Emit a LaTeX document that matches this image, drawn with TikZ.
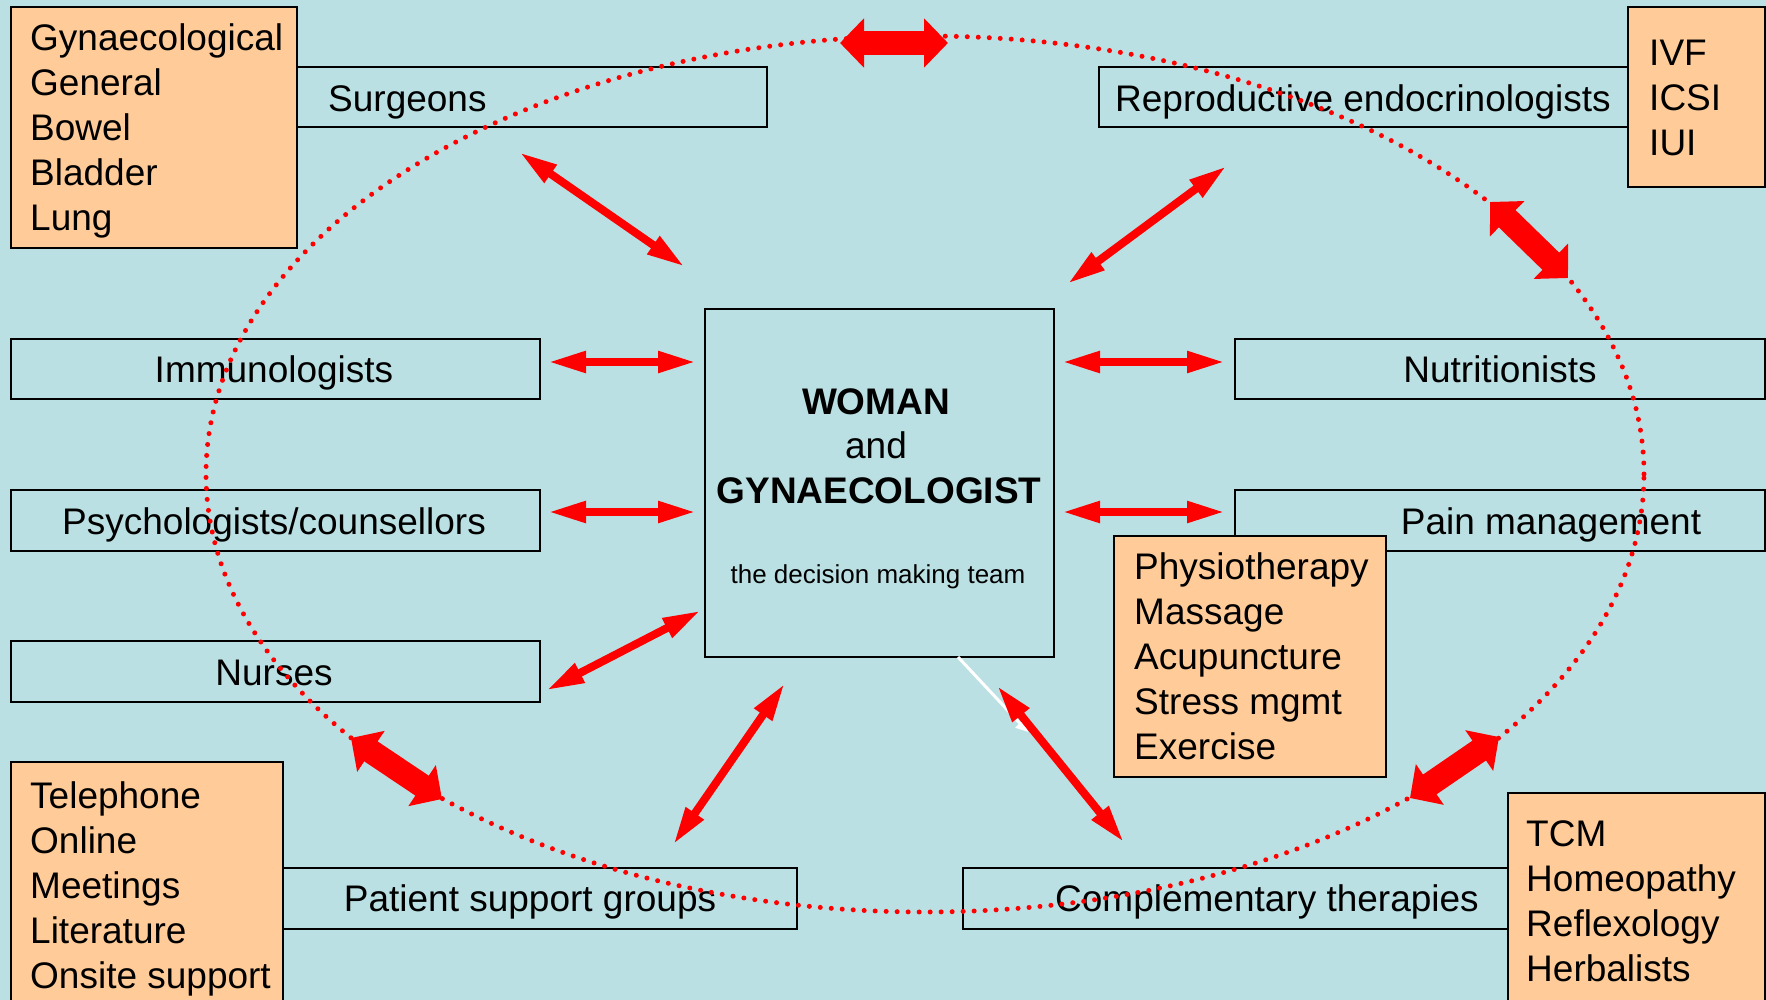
\documentclass[tikz,border=0pt]{standalone}
\usepackage{fontspec}
\setmainfont{Liberation Sans}
\usetikzlibrary{arrows.meta}
\definecolor{bg}{RGB}{187,224,227}
\definecolor{peach}{RGB}{255,204,153}
\definecolor{arrowred}{RGB}{255,0,0}
\begin{document}
\begin{tikzpicture}[x=1pt,y=-1pt,
  box/.style={draw=black,line width=2pt,fill=bg,inner sep=0pt,anchor=north west},
  obox/.style={box,fill=peach},
  lbl/.style={font=\fontsize{37}{45}\selectfont,inner sep=0pt,anchor=base},
  llbl/.style={lbl,anchor=base west},
  linkarrow/.style={draw=arrowred,line width=8pt,
    {Triangle[length=38pt,width=20pt]}-{Triangle[length=38pt,width=20pt]}},
  ringarrow/.style={draw=arrowred,line width=24pt,
    {Triangle[length=24pt,width=48pt]}-{Triangle[length=24pt,width=48pt]}},
  ring/.style={draw=arrowred,line width=5pt,line cap=round,dash pattern=on 0pt off 11pt},
]
\useasboundingbox (0,0) rectangle (1766,1000);
\clip (0,0) rectangle (1766,1000);
\fill[bg] (0,0) rectangle (1766,1000);

% plain boxes
\node[box,minimum width=470pt,minimum height=60pt] (surg) at (296,66) {};
\node[box,minimum width=529pt,minimum height=60pt] (repro) at (1098,66) {};
\node[box,minimum width=529pt,minimum height=60pt] (immu) at (10,338) {};
\node[box,minimum width=530pt,minimum height=60pt] (nutr) at (1234,338) {};
\node[box,minimum width=529pt,minimum height=61pt] (psych) at (10,489) {};
\node[box,minimum width=530pt,minimum height=61pt] (pain) at (1234,489) {};
\node[box,minimum width=529pt,minimum height=61pt] (nurse) at (10,640) {};
\node[box,minimum width=514pt,minimum height=61pt] (psg) at (282,867) {};
\node[box,minimum width=545pt,minimum height=61pt] (comp) at (962,867) {};
\node[box,minimum width=349pt,minimum height=348pt] (centre) at (704,308) {};

% orange boxes
\node[obox,minimum width=286pt,minimum height=241pt] (gyn) at (10,6) {};
\node[obox,minimum width=137pt,minimum height=180pt] (ivf) at (1627,6) {};
\node[obox,minimum width=272pt,minimum height=241pt] (physio) at (1113,535) {};
\node[obox,minimum width=272pt,minimum height=260pt] (tel) at (10,761) {};
\node[obox,minimum width=257pt,minimum height=230pt] (tcm) at (1507,792) {};

% box labels
\node[llbl] (tsurg) at (328,111.5) {Surgeons};
\node[lbl] (trepro) at (1363,111.5) {Reproductive endocrinologists};
\node[lbl] (timmu) at (274,382.5) {Immunologists};
\node[lbl] (tnutr) at (1500,382.5) {Nutritionists};
\node[lbl] (tpsych) at (274,534.5) {Psychologists/counsellors};
\node[lbl] (tpain) at (1551,534.5) {Pain management};
\node[lbl] (tnurse) at (274,685.5) {Nurses};
\node[lbl] (tpsg) at (530,911.5) {Patient support groups};
\node[lbl] (tcomp) at (1267,911.5) {Complementary therapies};

% orange box lists
\foreach \t [count=\i] in {Gynaecological,General,Bowel,Bladder,Lung}
  \node[llbl] (g\i) at (30,{51+45*(\i-1)}) {\t};
\foreach \t [count=\i] in {IVF,ICSI,IUI}
  \node[llbl] (v\i) at (1649,{66+45*(\i-1)}) {\t};
\foreach \t [count=\i] in {Physiotherapy,Massage,Acupuncture,Stress mgmt,Exercise}
  \node[llbl] (p\i) at (1134,{579.5+45*(\i-1)}) {\t};
\foreach \t [count=\i] in {Telephone,Online,Meetings,Literature,Onsite support}
  \node[llbl] (o\i) at (30,{808+45*(\i-1)}) {\t};
\foreach \t [count=\i] in {TCM,Homeopathy,Reflexology,Herbalists}
  \node[llbl] (c\i) at (1526,{846+45*(\i-1)}) {\t};

% centre text
\node[lbl,font=\bfseries\fontsize{37}{45}\selectfont] (w1) at (876,414) {WOMAN};
\node[lbl] (w2) at (876,458) {and};
\node[lbl,font=\bfseries\fontsize{37}{45}\selectfont] (w3) at (879,503) {GYNAECOLOGIST};
\node[lbl,font=\fontsize{26}{30}\selectfont] (w4) at (878,583) {the decision making team};

% dotted ring
\draw[ring] (925,474) ellipse [x radius=719pt, y radius=438pt];

% white arrow
\coordinate (wa) at (958,657);
\coordinate (wb) at (1028,732);
\draw[white,line width=3pt,-{Triangle[length=12pt,width=12pt]}] (wa) -- (wb);

% link arrows
\coordinate (a1) at (519.5,152.3);  \coordinate (b1) at (684.5,266.7);
\coordinate (a2) at (1226.4,166.2); \coordinate (b2) at (1067.6,283.8);
\coordinate (a3) at (548,362);      \coordinate (b3) at (696,362);
\coordinate (a4) at (1062,362);     \coordinate (b4) at (1225,362);
\coordinate (a5) at (548,512);      \coordinate (b5) at (696,512);
\coordinate (a6) at (1062,512);     \coordinate (b6) at (1225,512);
\coordinate (a7) at (546.3,690.4);  \coordinate (b7) at (700.7,610.6);
\coordinate (a8) at (673.3,844.5);  \coordinate (b8) at (784.7,683.5);
\coordinate (a9) at (997.1,685.7);  \coordinate (b9) at (1123.9,842.3);
\foreach \i in {1,...,9} \draw[linkarrow] (a\i) -- (b\i);

% ring arrows
\coordinate (r1a) at (840,43);   \coordinate (r1b) at (948,43);
\coordinate (r2a) at (1490,202); \coordinate (r2b) at (1568,278);
\coordinate (r3a) at (351,738);  \coordinate (r3b) at (442,799);
\coordinate (r4a) at (1410,798); \coordinate (r4b) at (1499,737);
\foreach \i in {1,...,4} \draw[ringarrow] (r\i a) -- (r\i b);
\end{tikzpicture}
\end{document}
